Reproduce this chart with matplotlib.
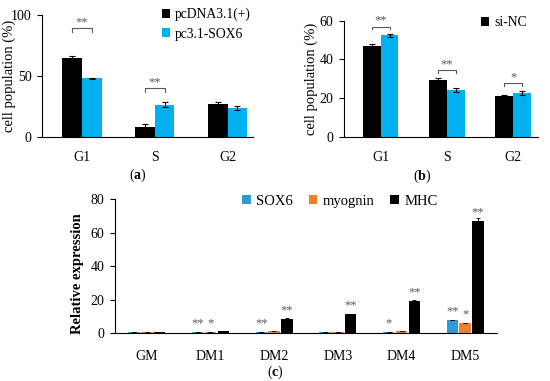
import numpy as np
import matplotlib.pyplot as plt

plt.rcParams['font.family'] = ['Liberation Serif', 'DejaVu Serif']
plt.rcParams['font.size'] = 10
plt.rcParams['mathtext.fontset'] = 'custom'
plt.rcParams['mathtext.bf'] = 'Liberation Serif:bold'
plt.rcParams['mathtext.rm'] = 'Liberation Serif'

# panel (a)
phases = ['G1', 'S', 'G2']
a_ctrl = [64.5, 8.0, 27.0]
a_ctrl_err = [1.5, 2.5, 1.5]
a_sox6 = [48.0, 26.5, 24.0]
a_sox6_err = [0.6, 2.0, 1.5]
a_marks = ['**', '**', '']
a_bracket_y = [89, 40, 0]

# panel (b)
b_nc = [47.0, 29.5, 21.0]
b_nc_err = [1.0, 1.0, 0.8]
b_si = [52.5, 24.3, 22.5]
b_si_err = [0.8, 1.0, 1.0]
b_marks = ['**', '**', '*']
b_bracket_y = [57, 34.6, 27.7]

# panel (c)
stages = ['GM', 'DM1', 'DM2', 'DM3', 'DM4', 'DM5']
sox6 = [0.8, 0.7, 0.8, 0.8, 1.0, 7.9]
myognin = [0.7, 1.0, 1.3, 0.9, 1.5, 6.0]
mhc = [0.9, 1.2, 8.8, 11.5, 19.5, 67.3]
sox6_marks = ['', '**', '**', '', '*', '**']
myog_marks = ['', '*', '', '', '', '*']
mhc_marks = ['', '', '**', '**', '**', '**']

BLACK = '#000000'
CYAN = '#00B0F0'
BLUE = '#2E9AD8'
ORANGE = '#F07F2E'
GRAY = '#595959'

W, H = 550, 381
fig = plt.figure(figsize=(5.5, 3.81), dpi=100)


def box(l, r, t, b):
    return [l / W, 1 - b / H, (r - l) / W, (b - t) / H]


def fx(px):
    return px / W


def fy(py):
    return 1 - py / H


def style(ax):
    for s in ['top', 'right']:
        ax.spines[s].set_visible(False)
    ax.tick_params(axis='x', length=0, pad=10)
    ax.tick_params(axis='y', direction='out', length=3.5, pad=4)


def bracket(ax, x0, x1, y, h, text):
    ax.plot([x0, x0, x1, x1], [y - h, y, y, y - h], color=GRAY, lw=0.8)
    ax.text((x0 + x1) / 2, y, text, ha='center', va='bottom', color=GRAY, fontsize=9)


ekw = dict(lw=0.8, capthick=0.8)
leg_kw = dict(frameon=False, handlelength=0.6, handleheight=0.6,
              handletextpad=0.35, borderpad=0, borderaxespad=0)

x = np.arange(3)
w = 0.27

# (a)
ax1 = fig.add_axes(box(42, 253, 15, 137))
ax1.bar(x - w / 2, a_ctrl, w, yerr=a_ctrl_err, color=BLACK, capsize=2,
        error_kw=ekw, label='pcDNA3.1(+)')
ax1.bar(x + w / 2, a_sox6, w, yerr=a_sox6_err, color=CYAN, capsize=2,
        error_kw=ekw, label='pc3.1-SOX6')
for i in range(3):
    if a_marks[i]:
        bracket(ax1, x[i] - w / 2, x[i] + w / 2, a_bracket_y[i], 3, a_marks[i])
ax1.set_ylim(0, 100)
ax1.set_yticks([0, 50, 100])
ax1.set_xlim(-0.55, 2.35)
ax1.set_xticks(x, phases)
style(ax1)
ax1.legend(loc='upper left', bbox_to_anchor=(fx(162), fy(8)),
           bbox_transform=fig.transFigure, labelspacing=0.45, fontsize=9.8, **leg_kw)
fig.text(fx(9), fy(76), 'cell population (%)', rotation=90,
         ha='center', va='center', fontsize=10.5)
fig.text(fx(138), fy(175), r'($\mathbf{a}$)', ha='center', va='center', fontsize=10)

# (b)
ax2 = fig.add_axes(box(344, 538, 20.7, 137))
ax2.bar(x - w / 2, b_nc, w, yerr=b_nc_err, color=BLACK, capsize=2,
        error_kw=ekw, label='si-NC')
ax2.bar(x + w / 2, b_si, w, yerr=b_si_err, color=CYAN, capsize=2,
        error_kw=ekw)
for i in range(3):
    bracket(ax2, x[i] - w / 2, x[i] + w / 2, b_bracket_y[i], 1.5, b_marks[i])
ax2.set_ylim(0, 60)
ax2.set_yticks([0, 20, 40, 60])
ax2.set_xlim(-0.55, 2.37)
ax2.set_xticks(x, phases)
style(ax2)
ax2.legend(loc='upper left', bbox_to_anchor=(fx(481), fy(16)),
           bbox_transform=fig.transFigure, fontsize=9.8, **leg_kw)
fig.text(fx(311), fy(79), 'cell population (%)', rotation=90,
         ha='center', va='center', fontsize=10.5)
fig.text(fx(422), fy(176), r'($\mathbf{b}$)', ha='center', va='center', fontsize=10)

# (c)
ax3 = fig.add_axes(box(115, 497, 199.3, 333.3))
xc = np.arange(len(stages))
wc = 0.18
series = [(sox6, BLUE, 'SOX6', sox6_marks, -0.2),
          (myognin, ORANGE, 'myognin', myog_marks, 0),
          (mhc, BLACK, 'MHC', mhc_marks, 0.2)]
for vals, col, lab, marks, off in series:
    ax3.bar(xc + off, vals, wc, color=col, label=lab,
            yerr=[v * 0.02 for v in vals], capsize=1.5,
            error_kw=dict(lw=0.6, capthick=0.6))
    for i, m in enumerate(marks):
        if m:
            ax3.text(xc[i] + off, vals[i] + 1.5, m, ha='center', va='bottom',
                     color=GRAY, fontsize=9)
ax3.set_ylim(0, 80)
ax3.set_yticks([0, 20, 40, 60, 80])
ax3.set_xlim(-0.5, 5.5)
ax3.set_xticks(xc, stages)
style(ax3)
ax3.tick_params(axis='x', pad=12)
ax3.legend(loc='upper left', bbox_to_anchor=(fx(242), fy(195)),
           bbox_transform=fig.transFigure, ncol=3, columnspacing=1.1,
           fontsize=10.5, **leg_kw)
fig.text(fx(77), fy(274), 'Relative expression', rotation=90, fontweight='bold',
         ha='center', va='center', fontsize=10.5)
fig.text(fx(275), fy(372), r'($\mathbf{c}$)', ha='center', va='center', fontsize=10)

fig.savefig('out.png', dpi=100)
